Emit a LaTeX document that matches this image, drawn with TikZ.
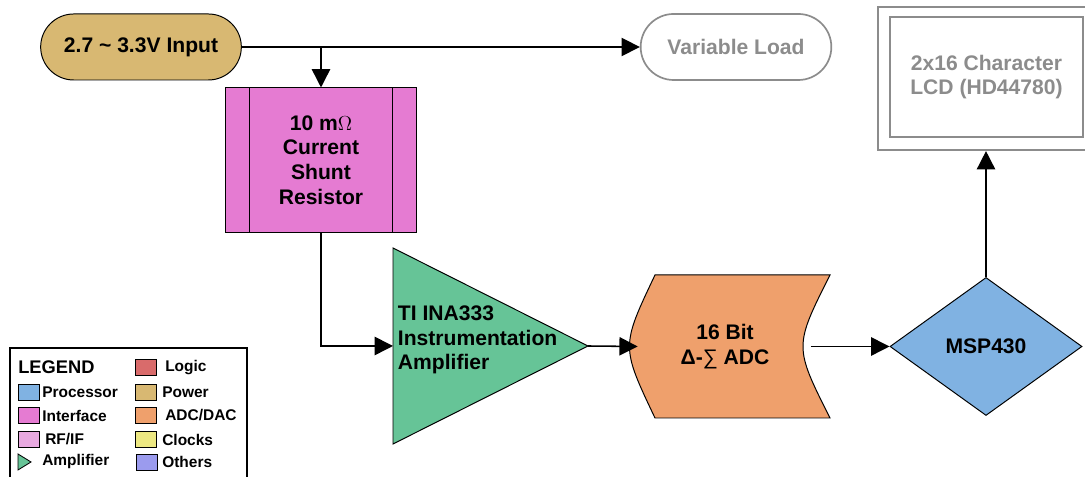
\documentclass[tikz,border=0pt]{standalone}
\usepackage{fontspec}
\setmainfont{Liberation Sans}
\usepackage{amsmath}
\usetikzlibrary{arrows.meta}
\usetikzlibrary{shapes.misc, shapes.geometric}

\definecolor{powerc}{HTML}{D8B872}
\definecolor{interfc}{HTML}{E57BD2}
\definecolor{amplc}{HTML}{66C497}
\definecolor{adcc}{HTML}{EFA06C}
\definecolor{procc}{HTML}{80B2E2}
\definecolor{logicc}{HTML}{D96B6B}
\definecolor{rfifc}{HTML}{E8A9E0}
\definecolor{clockc}{HTML}{EDE882}
\definecolor{otherc}{HTML}{9B9BEE}
\definecolor{grayc}{HTML}{8C8C8C}

\begin{document}
\begin{tikzpicture}[x=0.025cm, y=0.025cm,
				   every node/.style={font=\bfseries\fontsize{15}{17.5}\selectfont, align=center},
				   block/.style={draw=black, line width=0.7pt},
				   pill/.style={rounded rectangle, minimum height=1.65cm},
				   conn/.style={line width=1.1pt, -{Triangle[length=13pt, width=13pt]}},
				   key/.style={font=\bfseries\fontsize{11}{13}\selectfont, anchor=west, inner sep=0pt},
				   swatch/.style={draw=black, line width=0.6pt, minimum width=0.525cm, minimum height=0.4cm, inner sep=0pt}]
\useasboundingbox (0,0) rectangle (1085,477);

% power and load
\node[pill, block, fill=powerc, minimum width=5.25cm] (input) at (141,430) {2.7 \textasciitilde{} 3.3V Input};
\node[pill, draw=grayc, line width=1.2pt, text=grayc, minimum width=5cm] (load) at (736,430) {Variable Load};

% shunt
\node[block, fill=interfc, minimum width=4.75cm, minimum height=3.6cm] (shunt) at (321,317)
	{10 m$\Omega$\\Current\\Shunt\\Resistor};
\draw[line width=0.7pt] ([xshift=0.6cm]shunt.north west) -- ([xshift=0.6cm]shunt.south west);
\draw[line width=0.7pt] ([xshift=-0.6cm]shunt.north east) -- ([xshift=-0.6cm]shunt.south east);

% amplifier
\draw[block, fill=amplc] (393,229) -- (588,131) -- (393,33) -- cycle;
\coordinate (ampin) at (393,131);
\coordinate (ampout) at (588,131);
\node[align=left, anchor=west] (amp) at (393,137) {TI INA333\\Instrumentation\\Amplifier};

% adc
\draw[block, fill=adcc] (655,202) -- (830,202) .. controls (794,130.5) .. (830,59)
	-- (655,59) .. controls (621,130.5) .. (655,202) -- cycle;
\node[minimum width=4.35cm, minimum height=3.575cm] (adc) at (725,130.5) {16 Bit\\Δ-{\mdseries ∑} ADC};

% processor and display
\node[diamond, block, fill=procc, minimum width=4.8cm, minimum height=3.45cm, inner sep=0pt] (msp) at (986,130.5) {MSP430};
\node[draw=grayc, line width=1.5pt, minimum width=5.35cm, minimum height=3.575cm] (lcdbox) at (985,398.5) {};
\node[draw=grayc, line width=1pt, text=grayc, minimum width=4.825cm, minimum height=3cm] (lcd) at (986.5,400)
	{2x16 Character\\LCD (HD44780)};

\draw[conn] (input.east) -- (load.west);
\draw[conn] (input.east -| shunt.north) -- (shunt.north);
\draw[conn] (shunt.south) |- (ampin);
\draw[conn] (ampout) -- (adc.west);
\draw[conn] ([xshift=-1pt]adc.east) -- (msp.west);
\draw[conn] (msp.north) -- (msp.north |- lcdbox.south);

% legend
\draw[line width=1.2pt] (10,129) rectangle (247,-5);
\node[key, font=\bfseries\fontsize{13}{15}\selectfont] (legtitle) at (18,110) {LEGEND};
\node[swatch, fill=logicc] (klogic) at (145.5,109.5) {};
\node[key] (tlogic) at (165,109.5) {Logic};
\node[swatch, fill=procc] (kproc) at (28.5,85) {};
\node[key] (tproc) at (42,85) {Processor};
\node[swatch, fill=powerc] (kpower) at (145.5,85) {};
\node[key] (tpower) at (162,85) {Power};
\node[swatch, fill=interfc] (kinterf) at (28.5,61.5) {};
\node[key] (tinterf) at (42,61.5) {Interface};
\node[swatch, fill=adcc] (kadc) at (145.5,61.5) {};
\node[key] (tadc) at (165,61.5) {ADC/DAC};
\node[swatch, fill=rfifc] (krfif) at (28.5,37.5) {};
\node[key] (trfif) at (45,37.5) {RF/IF};
\node[swatch, fill=clockc] (kclock) at (145.5,37.5) {};
\node[key] (tclock) at (162,37.5) {Clocks};
\draw[line width=0.6pt, fill=amplc] (18,23) -- (31,15) -- (18,7) -- cycle;
\node[key] (tampl) at (42,15) {Amplifier};
\node[swatch, fill=otherc] (kother) at (147,15) {};
\node[key] (tother) at (162,15) {Others};
\end{tikzpicture}
\end{document}
